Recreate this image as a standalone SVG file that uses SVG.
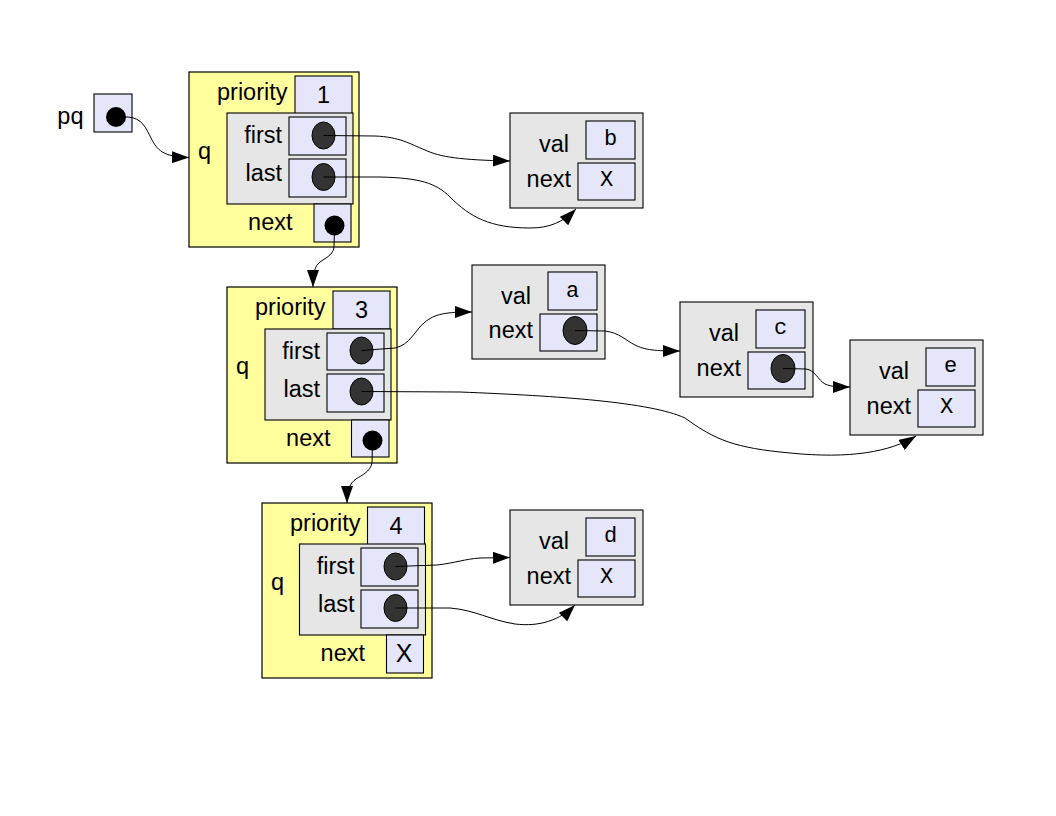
<svg xmlns="http://www.w3.org/2000/svg" width="1056" height="816" viewBox="0 0 1056 816">
<style>
text{font-family:"Liberation Sans",Arial,sans-serif;font-size:23.5px;fill:#000}
.mono{font-family:"Liberation Mono","Courier New",monospace;font-size:22px}
.q{fill:#ffff9e;stroke:#000;stroke-width:1.2}
.g{fill:#e6e6e6;stroke:#000;stroke-width:1.1}
.c{fill:#e6e6fa;stroke:#000;stroke-width:1.1}
.pt{fill:#333;stroke:#000;stroke-width:1}
.bd{fill:#000}
.e{text-anchor:end}
.m{text-anchor:middle}
.conn path{fill:none;stroke:#000;stroke-width:1}
</style>
<defs>
<marker id="arr" viewBox="0 0 17 12" refX="17" refY="6" markerWidth="17" markerHeight="12" orient="auto" markerUnits="userSpaceOnUse"><path d="M0,0 L17,6 L0,12 z" fill="#000"/></marker>
</defs>
<rect width="1056" height="816" fill="#fff"/>

<g id="pq">
<text class="e" x="83.5" y="124">pq</text>
<rect class="c" x="94" y="94" width="38" height="38"/>
<circle class="bd" cx="116" cy="117" r="10"/>
</g>

<g id="queue1" transform="translate(189,72)">
<rect class="q" x="0" y="0" width="170" height="175"/>
<rect class="c" x="106" y="4" width="57" height="38"/>
<text class="e" x="98.5" y="27.5">priority</text>
<text class="m" x="134.5" y="30.5">1</text>
<text x="9" y="87">q</text>
<rect class="g" x="38" y="41" width="126" height="91"/>
<rect class="c" x="100" y="45" width="57" height="38"/>
<rect class="c" x="100" y="87" width="57" height="38"/>
<text class="e" x="93" y="71">first</text>
<text class="e" x="93" y="109">last</text>
<ellipse class="pt" cx="134.5" cy="63.5" rx="11.5" ry="13.5"/>
<ellipse class="pt" cx="134.5" cy="105" rx="11.5" ry="13.5"/>
<rect class="c" x="125" y="132" width="37" height="38"/>
<text class="e" x="103.5" y="158">next</text>
<circle class="bd" cx="145.5" cy="153.5" r="10"/>
</g>

<g id="queue2" transform="translate(227,287)">
<rect class="q" x="0" y="0" width="170" height="176"/>
<rect class="c" x="106" y="4" width="57" height="38"/>
<text class="e" x="98.5" y="27.5">priority</text>
<text class="m" x="134.5" y="30.5">3</text>
<text x="9" y="87">q</text>
<rect class="g" x="38" y="42" width="126" height="91"/>
<rect class="c" x="100" y="46" width="57" height="37"/>
<rect class="c" x="100" y="87" width="57" height="38"/>
<text class="e" x="93" y="72">first</text>
<text class="e" x="93" y="110">last</text>
<ellipse class="pt" cx="134.5" cy="63.5" rx="11.5" ry="13.5"/>
<ellipse class="pt" cx="134.5" cy="104.5" rx="11.5" ry="13.5"/>
<rect class="c" x="124.5" y="133" width="37.5" height="37"/>
<text class="e" x="103.5" y="159">next</text>
<circle class="bd" cx="145.5" cy="153.5" r="10"/>
</g>

<g id="queue3" transform="translate(262,503)">
<rect class="q" x="0" y="0" width="170" height="175"/>
<rect class="c" x="105.5" y="4" width="57" height="38"/>
<text class="e" x="98.5" y="27.5">priority</text>
<text class="m" x="134" y="30.5">4</text>
<text x="9" y="87">q</text>
<rect class="g" x="37.5" y="41" width="126" height="91"/>
<rect class="c" x="99" y="45" width="57" height="38"/>
<rect class="c" x="99" y="87" width="57" height="38"/>
<text class="e" x="92.5" y="71">first</text>
<text class="e" x="92.5" y="109">last</text>
<ellipse class="pt" cx="133.5" cy="63.5" rx="11.5" ry="13.5"/>
<ellipse class="pt" cx="133.5" cy="105" rx="11.5" ry="13.5"/>
<rect class="c" x="124.5" y="132" width="37" height="38"/>
<text class="e" x="103" y="158">next</text>
<text class="m" x="142" y="159" style="font-size:25px">X</text>
</g>

<g id="node_b" transform="translate(510,113)">
<rect class="g" x="0" y="0" width="133" height="95"/>
<rect class="c" x="76" y="8" width="49" height="38"/>
<rect class="c" x="68" y="50" width="57" height="37"/>
<text class="e" x="59" y="38.5">val</text>
<text class="e" x="61" y="73.5">next</text>
<text class="mono m" x="100.5" y="32">b</text>
<text class="mono m" x="96.5" y="73">X</text>
</g>

<g id="node_a" transform="translate(472,265)">
<rect class="g" x="0" y="0" width="133" height="94"/>
<rect class="c" x="76" y="7" width="49" height="38"/>
<rect class="c" x="68" y="49" width="57" height="37"/>
<text class="e" x="59" y="38.5">val</text>
<text class="e" x="61" y="73">next</text>
<text class="mono m" x="100.5" y="32">a</text>
<ellipse class="pt" cx="103" cy="65.5" rx="12" ry="14"/>
</g>

<g id="node_c" transform="translate(680,302)">
<rect class="g" x="0" y="0" width="133" height="95"/>
<rect class="c" x="76" y="8" width="49" height="38"/>
<rect class="c" x="68" y="50" width="57" height="37"/>
<text class="e" x="59" y="38.5">val</text>
<text class="e" x="61" y="73.5">next</text>
<text class="mono m" x="100.5" y="32">c</text>
<ellipse class="pt" cx="103" cy="66.5" rx="12" ry="14"/>
</g>

<g id="node_e" transform="translate(850,340)">
<rect class="g" x="0" y="0" width="133" height="95"/>
<rect class="c" x="76" y="8" width="49" height="38"/>
<rect class="c" x="68" y="50" width="57" height="37"/>
<text class="e" x="59" y="38.5">val</text>
<text class="e" x="61" y="73.5">next</text>
<text class="mono m" x="100.5" y="32">e</text>
<text class="mono m" x="96.5" y="73">X</text>
</g>

<g id="node_d" transform="translate(510,510)">
<rect class="g" x="0" y="0" width="133" height="95"/>
<rect class="c" x="76" y="8" width="49" height="38"/>
<rect class="c" x="68" y="50" width="57" height="37"/>
<text class="e" x="59" y="38.5">val</text>
<text class="e" x="61" y="73.5">next</text>
<text class="mono m" x="100.5" y="32">d</text>
<text class="mono m" x="96.5" y="73">X</text>
</g>

<g id="connectors" class="conn">
<path marker-end="url(#arr)" d="M116,117 L128,117 C142,118 146,128 151,138 C157,150 163,157 189,157.5"/>
<path marker-end="url(#arr)" d="M323.5,135.5 L375,136 C400,137 410,144 425,150 C440,157 460,160 510,161"/>
<path marker-end="url(#arr)" d="M323.5,177 L380,177 C420,178 436,183 450,197 C470,217 490,228 530,228 C550,228 563,222 576,209"/>
<path marker-end="url(#arr)" d="M334.5,225.5 L334,248 C332,256 325,258 320,262 C315,266 313,272 313,287"/>
<path marker-end="url(#arr)" d="M361.5,350.5 L395,348 C410,345 415,330 425,322 C435,314 445,312 472,312"/>
<path marker-end="url(#arr)" d="M575,330.5 L605,331 C620,333 625,340 635,345 C645,350 655,351 680,351"/>
<path marker-end="url(#arr)" d="M783,368.5 L806,369 C815,370 818,380 825,384 C832,387 838,387 850,387"/>
<path marker-end="url(#arr)" d="M361.5,391.5 L460,392 C560,396 650,402 685,418 C715,440 735,448 790,453 C850,459 890,452 916,436"/>
<path marker-end="url(#arr)" d="M372.5,440.5 L372,463 C370,472 362,475 356,479 C350,483 347,490 347,503"/>
<path marker-end="url(#arr)" d="M395.5,566.5 L437,565 C455,563 465,559 480,558 L510,557.5"/>
<path marker-end="url(#arr)" d="M395.5,608 L450,608 C475,610 490,620 515,624 C540,627 560,620 575,605"/>
</g>
</svg>
